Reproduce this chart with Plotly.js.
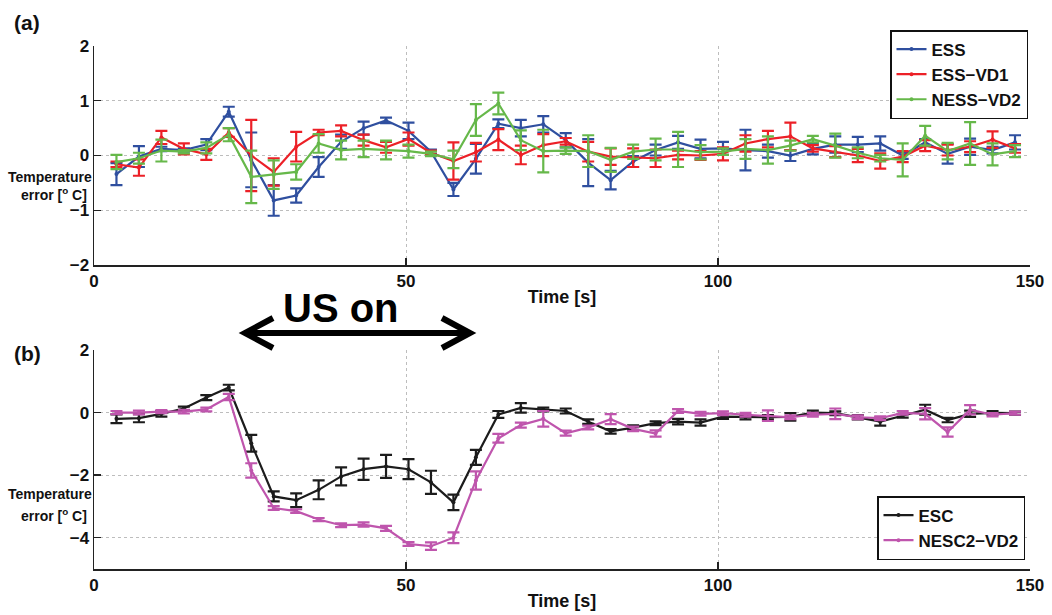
<!DOCTYPE html>
<html>
<head>
<meta charset="utf-8">
<script src="https://cdn.plot.ly/plotly-3.0.1.min.js"></script>
<style>html,body{margin:0;padding:0;background:#fff}</style>
</head>
<body>
<div id="chart" style="width:1052px;height:615px"></div>
<script>
// Sampling instants [s]
const time = [3.6, 7.2, 10.8, 14.4, 18.0, 21.6, 25.2, 28.8, 32.4, 36.0,
  39.6, 43.2, 46.8, 50.4, 54.0, 57.6, 61.2, 64.8, 68.4, 72.0,
  75.6, 79.2, 82.8, 86.4, 90.0, 93.6, 97.2, 100.8, 104.4, 108.0,
  111.6, 115.2, 118.8, 122.4, 126.0, 129.6, 133.2, 136.8, 140.4, 144.0, 147.6];

// Panel (a): mean temperature error and its spread
const essMean = [-0.34, -0.02, 0.12, 0.10, 0.20, 0.80, -0.08, -0.82, -0.73, -0.21,
  0.25, 0.50, 0.64, 0.45, 0.07, -0.62, -0.06, 0.58, 0.50, 0.57,
  0.28, -0.13, -0.45, -0.11, 0.10, 0.24, 0.12, 0.13, 0.10, 0.08,
  0.00, 0.12, 0.20, 0.20, 0.22, 0.00, 0.24, 0.03, 0.16, 0.10, 0.24];
const essErr = [0.20, 0.19, 0.04, 0.03, 0.10, 0.09, 0.50, 0.28, 0.13, 0.18,
  0.13, 0.12, 0.05, 0.15, 0.04, 0.12, 0.27, 0.08, 0.15, 0.15,
  0.13, 0.43, 0.17, 0.10, 0.10, 0.12, 0.17, 0.12, 0.37, 0.12,
  0.10, 0.10, 0.15, 0.14, 0.13, 0.06, 0.06, 0.18, 0.15, 0.06, 0.13];

const vd1Mean = [-0.16, -0.22, 0.33, 0.12, 0.02, 0.42, 0.00, -0.30, 0.16, 0.42,
  0.45, 0.28, 0.15, 0.30, 0.05, -0.10, 0.06, 0.29, 0.01, 0.19,
  0.26, 0.07, -0.02, -0.04, -0.05, 0.01, 0.00, 0.03, 0.22, 0.30,
  0.35, 0.13, 0.07, 0.00, -0.10, -0.02, 0.18, 0.10, 0.16, 0.29, 0.13];
const vd1Err = [0.05, 0.15, 0.12, 0.10, 0.10, 0.08, 0.65, 0.25, 0.27, 0.05,
  0.10, 0.10, 0.10, 0.12, 0.04, 0.34, 0.17, 0.19, 0.17, 0.20,
  0.06, 0.18, 0.15, 0.17, 0.16, 0.08, 0.08, 0.12, 0.15, 0.15,
  0.25, 0.06, 0.10, 0.12, 0.14, 0.10, 0.10, 0.10, 0.10, 0.15, 0.08];

const vd2Mean = [-0.12, -0.05, 0.09, 0.07, 0.14, 0.38, -0.39, -0.35, -0.30, 0.22,
  0.10, 0.12, 0.10, 0.08, 0.03, -0.07, 0.65, 0.95, 0.28, 0.08,
  0.09, 0.08, -0.08, 0.07, 0.11, 0.11, 0.06, 0.07, 0.12, 0.10,
  0.18, 0.30, 0.18, 0.05, -0.05, -0.08, 0.36, 0.08, 0.22, 0.02, 0.08];
const vd2Err = [0.13, 0.10, 0.20, 0.03, 0.10, 0.12, 0.48, 0.26, 0.14, 0.17,
  0.17, 0.15, 0.17, 0.12, 0.04, 0.16, 0.29, 0.20, 0.18, 0.39,
  0.06, 0.29, 0.22, 0.13, 0.20, 0.32, 0.13, 0.06, 0.18, 0.25,
  0.09, 0.06, 0.22, 0.10, 0.06, 0.30, 0.18, 0.15, 0.39, 0.20, 0.11];

// Panel (b)
const escMean = [-0.20, -0.18, -0.04, 0.13, 0.48, 0.80, -0.98, -2.68, -2.80, -2.47,
  -2.04, -1.81, -1.72, -1.81, -2.23, -2.87, -1.43, -0.06, 0.15, 0.10,
  0.05, -0.29, -0.60, -0.48, -0.34, -0.29, -0.32, -0.13, -0.15, -0.15,
  -0.14, 0.00, -0.02, -0.15, -0.29, -0.10, 0.09, -0.24, -0.04, -0.01, -0.02];
const escErr = [0.14, 0.13, 0.09, 0.06, 0.08, 0.09, 0.27, 0.16, 0.22, 0.30,
  0.29, 0.34, 0.37, 0.32, 0.37, 0.25, 0.24, 0.11, 0.15, 0.06,
  0.08, 0.07, 0.07, 0.07, 0.06, 0.09, 0.10, 0.07, 0.07, 0.07,
  0.12, 0.06, 0.06, 0.07, 0.13, 0.06, 0.16, 0.07, 0.10, 0.06, 0.05];

const nescMean = [0.00, 0.00, 0.03, 0.03, 0.10, 0.50, -1.85, -3.05, -3.15, -3.42,
  -3.60, -3.58, -3.70, -4.20, -4.27, -4.00, -2.17, -0.82, -0.40, -0.20,
  -0.66, -0.48, -0.21, -0.52, -0.67, 0.05, -0.04, -0.02, -0.07, -0.10,
  -0.15, -0.07, -0.04, -0.15, -0.18, -0.01, -0.04, -0.62, 0.09, -0.07, -0.02];
const nescErr = [0.05, 0.06, 0.05, 0.06, 0.06, 0.10, 0.23, 0.06, 0.06, 0.05,
  0.06, 0.07, 0.08, 0.06, 0.12, 0.17, 0.29, 0.14, 0.08, 0.25,
  0.08, 0.06, 0.16, 0.07, 0.10, 0.06, 0.06, 0.06, 0.06, 0.17,
  0.06, 0.06, 0.17, 0.06, 0.06, 0.06, 0.18, 0.15, 0.15, 0.05, 0.05];

const seriesA = [
  {name: 'ESS', y: essMean, e: essErr, color: '#2f4f9f'},
  {name: 'ESS\u2212VD1', y: vd1Mean, e: vd1Err, color: '#ec2027'},
  {name: 'NESS\u2212VD2', y: vd2Mean, e: vd2Err, color: '#66b84a'}
];
const seriesB = [
  {name: 'ESC', y: escMean, e: escErr, color: '#1c1c1c'},
  {name: 'NESC2\u2212VD2', y: nescMean, e: nescErr, color: '#bf55ad'}
];

const FONT = 'Liberation Sans, Arial, Helvetica, sans-serif';

function makeTrace(s, xa, ya, legend) {
  return {
    type: 'scatter', mode: 'lines+markers', name: s.name,
    x: time, y: s.y, xaxis: xa, yaxis: ya, legend: legend,
    line: {color: s.color, width: 2.2},
    marker: {color: s.color, size: 4},
    error_y: {type: 'data', array: s.e, visible: true, color: s.color, thickness: 2.2, width: 6}
  };
}

const traces = [];
seriesA.forEach(s => traces.push(makeTrace(s, 'x', 'y', 'legend')));
seriesB.forEach(s => traces.push(makeTrace(s, 'x2', 'y2', 'legend2')));

const W = 1052, H = 615;
const px = v => v / W;
const py = v => 1 - v / H;

function xAxis(anchor) {
  return {
    domain: [px(94), px(1030)], anchor: anchor, range: [0, 150],
    tickvals: [0, 50, 100, 150], ticks: 'inside', ticklen: 7, tickwidth: 1.3, tickcolor: '#222',
    showline: true, linecolor: '#222', linewidth: 1.5, mirror: false,
    showgrid: true, gridcolor: '#bdbdbd', griddash: 'dot', gridwidth: 1, zeroline: false,
    tickfont: {family: FONT, size: 17, color: '#111', weight: 'bold'},
    title: {text: 'Time [s]', standoff: 0, font: {family: FONT, size: 18, color: '#111', weight: 'bold'}},
    automargin: false
  };
}
function yAxis(anchor, dom, range, dtick) {
  return {
    domain: dom, anchor: anchor, range: range, dtick: dtick, tick0: 0,
    ticks: 'inside', ticklen: 7, tickwidth: 1.3, tickcolor: '#222',
    showline: true, linecolor: '#222', linewidth: 1.5, mirror: false,
    showgrid: true, gridcolor: '#bdbdbd', griddash: 'dot', gridwidth: 1, zeroline: false,
    tickfont: {family: FONT, size: 17, color: '#111', weight: 'bold'},
    automargin: false
  };
}

const legendStyle = {
  bgcolor: '#ffffff', bordercolor: '#111', borderwidth: 1.5,
  font: {family: FONT, size: 17, color: '#111', weight: 'bold'},
  tracegroupgap: 0, itemwidth: 30
};

const titleFont = {family: FONT, size: 14, color: '#111', weight: 'bold'};

// y-axis caption, written as two stacked lines left of each panel
function yCaption(xc, yTop, gap) {
  return [
    {text: 'Temperature', xref: 'paper', yref: 'paper', x: px(xc), y: py(yTop),
      xanchor: 'center', yanchor: 'middle', showarrow: false, font: titleFont},
    {text: 'error [<sup>o</sup> C]', xref: 'paper', yref: 'paper', x: px(xc + 4), y: py(yTop + gap),
      xanchor: 'center', yanchor: 'middle', showarrow: false, font: titleFont}
  ];
}

// Double-headed arrow marking the ultrasound interval
const ax0 = 245, ax1 = 470, ayc = 333;
const shapes = [
  {type: 'line', xref: 'paper', yref: 'paper', x0: px(ax0 + 3), x1: px(ax1 - 3), y0: py(ayc), y1: py(ayc),
    line: {color: '#000', width: 6}},
  {type: 'path', xref: 'paper', yref: 'paper',
    path: `M ${px(ax0 + 28)} ${py(ayc - 15)} L ${px(ax0)} ${py(ayc)} L ${px(ax0 + 28)} ${py(ayc + 15)}`,
    line: {color: '#000', width: 6}},
  {type: 'path', xref: 'paper', yref: 'paper',
    path: `M ${px(ax1 - 28)} ${py(ayc - 15)} L ${px(ax1)} ${py(ayc)} L ${px(ax1 - 28)} ${py(ayc + 15)}`,
    line: {color: '#000', width: 6}}
];

const layout = {
  width: W, height: H, autosize: false,
  margin: {l: 0, r: 0, t: 0, b: 0},
  paper_bgcolor: '#fff', plot_bgcolor: '#fff',
  font: {family: FONT, color: '#111'},
  xaxis: xAxis('y'),
  yaxis: yAxis('x', [py(265), py(46)], [-2, 2], 1),
  xaxis2: xAxis('y2'),
  yaxis2: yAxis('x2', [py(569), py(350)], [-5, 2], 2),
  showlegend: true,
  legend: Object.assign({x: px(1028), y: py(30), xanchor: 'right', yanchor: 'top'}, legendStyle),
  legend2: Object.assign({x: px(1025), y: py(560), xanchor: 'right', yanchor: 'bottom'}, legendStyle),
  shapes: shapes,
  annotations: [
    {text: '(a)', xref: 'paper', yref: 'paper', x: px(12), y: py(23), xanchor: 'left', yanchor: 'middle',
      showarrow: false, font: {family: FONT, size: 21, color: '#111', weight: 'bold'}},
    {text: '(b)', xref: 'paper', yref: 'paper', x: px(12), y: py(353), xanchor: 'left', yanchor: 'middle',
      showarrow: false, font: {family: FONT, size: 21, color: '#111', weight: 'bold'}},
    ...yCaption(50, 177, 17),
    ...yCaption(50, 494, 21),
    {text: 'US on', xref: 'paper', yref: 'paper', x: px(341), y: py(308), xanchor: 'center', yanchor: 'middle',
      showarrow: false, font: {family: FONT, size: 40, color: '#000', weight: 'bold'}}
  ]
};

Plotly.newPlot('chart', traces, layout, {displayModeBar: false, staticPlot: true});
</script>
</body>
</html>
